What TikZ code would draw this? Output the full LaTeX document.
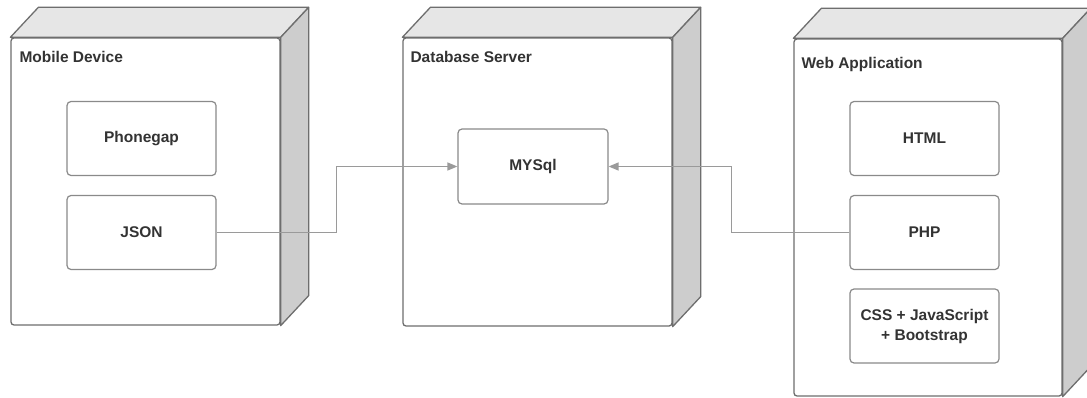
\documentclass[tikz,border=0pt]{standalone}
\usepackage{fontspec}
\setmainfont{Liberation Sans}
\usetikzlibrary{arrows.meta}
\definecolor{edge}{HTML}{6E6E6E}
\definecolor{inedge}{HTML}{8A8A8A}
\definecolor{topf}{HTML}{E6E6E6}
\definecolor{sidef}{HTML}{CDCDCD}
\definecolor{conncol}{HTML}{9A9A9A}
\definecolor{txt}{HTML}{333333}
\tikzset{
  outer/.style={draw=edge, line width=1.3pt, fill=white, rounded corners=3pt, inner sep=0pt},
  topface/.style={draw=edge, line width=1.3pt, fill=topf, line join=round},
  sideface/.style={draw=edge, line width=1.3pt, fill=sidef, line join=round},
  comp/.style={draw=inedge, line width=1.2pt, fill=white, rounded corners=4pt,
    minimum width=149pt, minimum height=74pt, align=center, text=txt,
    font=\fontsize{15.5}{20}\selectfont\bfseries},
  lbl/.style={anchor=west, text=txt, inner sep=0pt, font=\fontsize{15.5}{19}\selectfont\bfseries},
  conn/.style={draw=conncol, line width=1.4pt, -{Triangle[length=10pt,width=8pt]}}
}
\begin{document}
\begin{tikzpicture}[x=1pt,y=-1pt]
\clip (0,0) rectangle (1087,398);
\fill[white] (0,0) rectangle (1087,398);
% Mobile Device
\node[outer, minimum width=269pt, minimum height=287pt] (md) at (145.5,181.5) {};
\draw[topface] (md.north west) -- ++(28,-30) -- ([shift={(28,-30)}]md.north east) -- (md.north east) -- cycle;
\draw[sideface] (md.north east) -- ++(28,-30) -- ([shift={(28,-30)}]md.south east) -- (md.south east) -- cycle;
\node[lbl] (mdl) at ([shift={(9,20)}]md.north west) {Mobile Device};
% Database Server
\node[outer, minimum width=269pt, minimum height=288pt] (ds) at (537.5,182) {};
\draw[topface] (ds.north west) -- ++(28,-30) -- ([shift={(28,-30)}]ds.north east) -- (ds.north east) -- cycle;
\draw[sideface] (ds.north east) -- ++(28,-30) -- ([shift={(28,-30)}]ds.south east) -- (ds.south east) -- cycle;
\node[lbl] (dsl) at ([shift={(8,20)}]ds.north west) {Database Server};
% Web Application
\node[outer, minimum width=268pt, minimum height=357pt] (wa) at (928,217.5) {};
\draw[topface] (wa.north west) -- ++(28,-30) -- ([shift={(28,-30)}]wa.north east) -- (wa.north east) -- cycle;
\draw[sideface] (wa.north east) -- ++(28,-30) -- ([shift={(28,-30)}]wa.south east) -- (wa.south east) -- cycle;
\node[lbl] (wal) at ([shift={(8,26)}]wa.north west) {Web Application};
% components
\node[comp] (pg) at (141.5,138.5) {Phonegap};
\node[comp] (json) at (141.5,232.5) {JSON};
\node[comp, minimum width=150pt, minimum height=75pt] (mysql) at (533,166.5) {MYSql};
\node[comp] (html) at (924.5,138.5) {HTML};
\node[comp] (php) at (924.5,232.5) {PHP};
\node[comp] (css) at (924.5,326) {CSS + JavaScript\\+ Bootstrap};
% connectors
\draw[conn] (json.east) -- ++(120,0) |- (mysql.west);
\draw[conn] (php.west) -- ++(-118,0) |- (mysql.east);
\end{tikzpicture}
\end{document}
